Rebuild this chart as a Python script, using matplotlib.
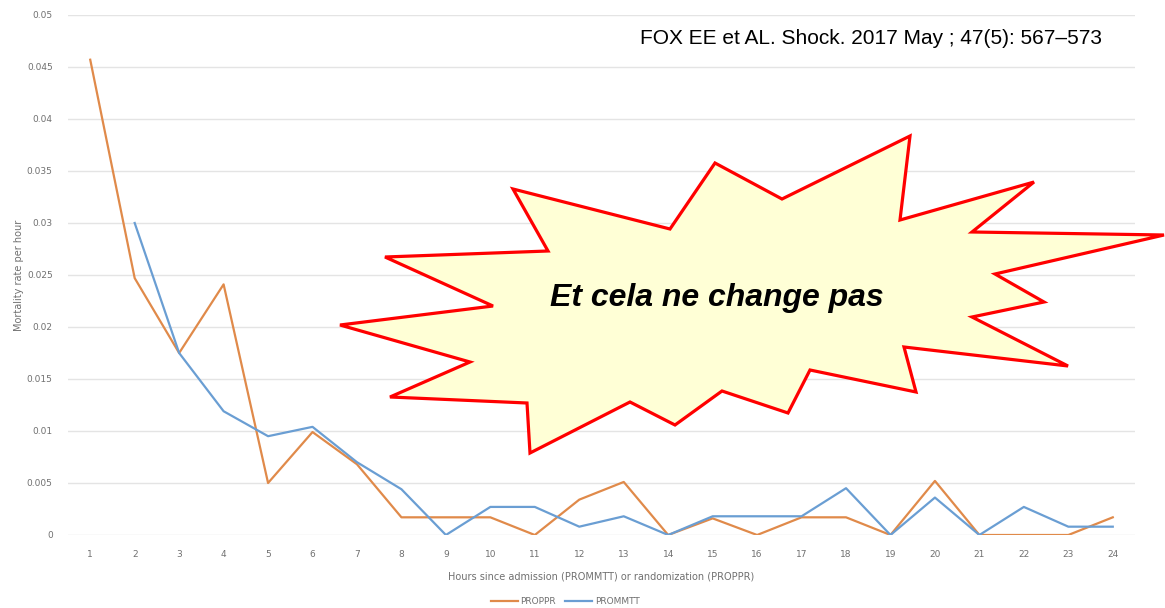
import matplotlib
matplotlib.use("Agg")
import matplotlib.pyplot as plt
from matplotlib.patches import Polygon

hours = list(range(1, 25))
proppr = [0.0457, 0.0247, 0.0175, 0.0241, 0.0050, 0.0099, 0.0068, 0.0017,
          0.0017, 0.0017, 0.0000, 0.0034, 0.0051, 0.0000, 0.0016, 0.0000,
          0.0017, 0.0017, 0.0000, 0.0052, 0.0000, 0.0000, 0.0000, 0.0017]
prommtt_hours = list(range(2, 25))
prommtt = [0.0300, 0.0175, 0.0119, 0.0095, 0.0104, 0.0070, 0.0044, 0.0000,
           0.0027, 0.0027, 0.0008, 0.0018, 0.0000, 0.0018, 0.0018, 0.0018,
           0.0045, 0.0000, 0.0036, 0.0000, 0.0027, 0.0008, 0.0008]
yticks = [0, 0.005, 0.01, 0.015, 0.02, 0.025, 0.03, 0.035, 0.04, 0.045, 0.05]
ytick_labels = ["0", "0.005", "0.01", "0.015", "0.02", "0.025", "0.03",
                "0.035", "0.04", "0.045", "0.05"]

W, H = 1165, 608
fig = plt.figure(figsize=(W / 100, H / 100), dpi=100)
ax = fig.add_axes([68 / W, 1 - 535 / H, (1135 - 68) / W, (535 - 15) / H])

c_or = "#E08A4A"
c_bl = "#6A9ED3"
ax.plot(hours, proppr, color=c_or, lw=1.6, label="PROPPR", zorder=3)
ax.plot(prommtt_hours, prommtt, color=c_bl, lw=1.6, label="PROMMTT", zorder=3)

ax.set_xlim(0.5, 24.5)
ax.set_ylim(0, 0.05)
ax.set_xticks(hours)
ax.set_xticklabels([str(h) for h in hours])
ax.set_yticks(yticks)
ax.set_yticklabels(ytick_labels)
ax.grid(axis="y", color="#e4e4e4", lw=1.0)
ax.set_axisbelow(True)
for s in ax.spines.values():
    s.set_visible(False)
ax.tick_params(length=0, labelsize=6.5, colors="#707070")
ax.tick_params(axis="x", pad=11)
ax.tick_params(axis="y", pad=11)
ax.set_xlabel("Hours since admission (PROMMTT) or randomization (PROPPR)",
              fontsize=7, color="#707070", labelpad=9)
ax.set_ylabel("Mortality rate per hour", fontsize=7, color="#707070", labelpad=2)

leg = ax.legend(loc="center", bbox_to_anchor=(565 / W, 1 - 602 / H),
                bbox_transform=fig.transFigure, ncol=2, frameon=False,
                fontsize=6.5, handlelength=3.0, columnspacing=1.0, handletextpad=0.3)
for t in leg.get_texts():
    t.set_color("#707070")

# starburst callout
pts = [(340, 325), (493, 306), (385, 257), (548, 251), (513, 189), (670, 229),
       (715, 163), (782, 199), (910, 136), (900, 220), (1034, 182), (972, 232),
       (1164, 235), (995, 274), (1044, 302), (972, 317), (1068, 366), (904, 347),
       (916, 392), (810, 370), (788, 413), (722, 391), (675, 425), (630, 402),
       (530, 453), (527, 403), (390, 397), (470, 362)]
poly = Polygon([(x / W, 1 - y / H) for x, y in pts], closed=True,
               transform=fig.transFigure, facecolor="#FFFFD6", edgecolor="#FF0000",
               lw=2.3, joinstyle="miter", zorder=10)
fig.add_artist(poly)
fig.text(717 / W, 1 - 298 / H, "Et cela ne change pas", ha="center", va="center",
         fontsize=23, fontweight="bold", fontstyle="italic",
         family="Liberation Sans", color="black", zorder=11)
fig.text(871 / W, 1 - 39 / H, "FOX EE et AL. Shock. 2017 May ; 47(5): 567\u2013573",
         ha="center", va="center", fontsize=15, family="Liberation Sans",
         color="black", zorder=11)

fig.savefig("out.png", dpi=100, facecolor="white")
